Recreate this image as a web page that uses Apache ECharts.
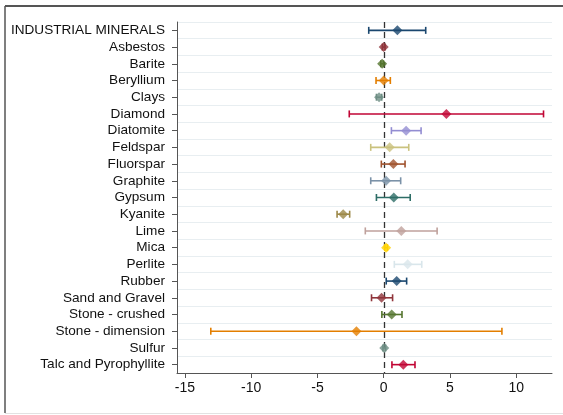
<!DOCTYPE html>
<html>
<head>
<meta charset="utf-8">
<script src="https://cdn.jsdelivr.net/npm/echarts@6/dist/echarts.min.js"></script>
<style>
html,body{margin:0;padding:0;background:#fff;}
#chart{width:563px;height:415px;}
</style>
</head>
<body>
<div id="chart"></div>
<script>
var categories = ["INDUSTRIAL MINERALS","Asbestos","Barite","Beryllium","Clays","Diamond","Diatomite","Feldspar","Fluorspar","Graphite","Gypsum","Kyanite","Lime","Mica","Perlite","Rubber","Sand and Gravel","Stone - crushed","Stone - dimension","Sulfur","Talc and Pyrophyllite"];
var estimates = [1.03, 0.0, -0.12, 0.0, -0.35, 4.73, 1.69, 0.45, 0.73, 0.18, 0.76, -3.06, 1.33, 0.18, 1.81, 0.98, -0.16, 0.6, -2.06, 0.04, 1.48];
var lower = [-1.13, -0.1, -0.22, -0.58, -0.55, -2.6, 0.58, -0.98, -0.18, -0.98, -0.55, -3.52, -1.39, 0.08, 0.8, 0.19, -0.92, -0.14, -13.05, -0.06, 0.62];
var upper = [3.17, 0.1, -0.02, 0.5, -0.15, 12.06, 2.82, 1.89, 1.61, 1.28, 2.0, -2.57, 4.03, 0.28, 2.87, 1.73, 0.67, 1.38, 8.92, 0.14, 2.36];
var xTicks = [-15, -10, -5, 0, 5, 10];
var refValue = 0;
var palette = ["#1a476f","#90353b","#55752f","#e37e00","#6e8e84","#c10534","#938dd2","#cac27e","#a0522d","#7b92a8","#2d6d66","#9c8847","#bfa19c","#ffd200","#d9e6eb"];

function colorOf(i){ return palette[i % palette.length]; }

var errData = categories.map(function(c, i){ return [lower[i], upper[i], i]; });
var ptData = categories.map(function(c, i){
  return { value: [estimates[i], i], itemStyle: { color: colorOf(i) } };
});

var chart = echarts.init(document.getElementById('chart'), null, {renderer:'canvas'});
var fontFam = '"Liberation Sans", Arial, Helvetica, sans-serif';
var frame = [
  { type: 'line', shape: {x1: 5, y1: 6, x2: 563, y2: 6}, style: {stroke: '#555', lineWidth: 2} },
  { type: 'line', shape: {x1: 5, y1: 6, x2: 5, y2: 413}, style: {stroke: '#555', lineWidth: 1.5} },
  { type: 'line', shape: {x1: 5, y1: 413.5, x2: 563, y2: 413.5}, style: {stroke: '#e2e2e2', lineWidth: 1} }
];
chart.setOption({
  animation: false,
  backgroundColor: '#fff',
  graphic: frame,
  grid: { left: 177, right: 11, top: 22, bottom: 42, containLabel: false },
  xAxis: {
    type: 'value',
    min: -15.6, max: 12.7,
    axisLine: { show: true, onZero: false, lineStyle: { color: '#555', width: 1 } },
    axisTick: { show: true, length: 5, lineStyle: { color: '#555' }, customValues: xTicks },
    axisLabel: { color: '#111', fontSize: 14, fontFamily: fontFam, margin: 8, customValues: xTicks },
    splitLine: { show: false }
  },
  yAxis: {
    type: 'category',
    data: categories,
    inverse: true,
    axisLine: { show: true, onZero: false, lineStyle: { color: '#555', width: 1 } },
    axisTick: { show: true, alignWithLabel: true, interval: 0, length: 5, lineStyle: { color: '#555' } },
    axisLabel: { color: '#111', fontSize: 13.6, fontFamily: fontFam, margin: 12, interval: 0 },
    splitLine: { show: true, interval: 0, lineStyle: { color: '#e8eef1', width: 1 } }
  },
  series: [
    {
      type: 'custom',
      data: errData,
      renderItem: function(params, api){
        var i = api.value(2);
        var p1 = api.coord([api.value(0), i]);
        var p2 = api.coord([api.value(1), i]);
        var h = 3.5;
        var col = colorOf(i);
        var st = { stroke: col, lineWidth: 1.6 };
        return {
          type: 'group',
          children: [
            { type: 'line', shape: {x1: p1[0], y1: p1[1], x2: p2[0], y2: p2[1]}, style: st },
            { type: 'line', shape: {x1: p1[0], y1: p1[1]-h, x2: p1[0], y2: p1[1]+h}, style: st },
            { type: 'line', shape: {x1: p2[0], y1: p2[1]-h, x2: p2[0], y2: p2[1]+h}, style: st }
          ]
        };
      },
      z: 3
    },
    {
      type: 'scatter',
      data: ptData,
      symbol: 'diamond',
      symbolSize: [10, 10],
      z: 4
    }
  ]
});
var x0 = Math.round(chart.convertToPixel({xAxisIndex: 0}, refValue)) + 0.5;
var gridTop = 22, gridBottom = 415 - 42;
chart.setOption({
  graphic: frame.concat([{
    type: 'line', z: 2, silent: true,
    shape: { x1: x0, y1: gridTop, x2: x0, y2: gridBottom },
    style: { stroke: '#333', lineWidth: 1.3, lineDash: [6, 4] }
  }])
});
</script>
</body>
</html>
